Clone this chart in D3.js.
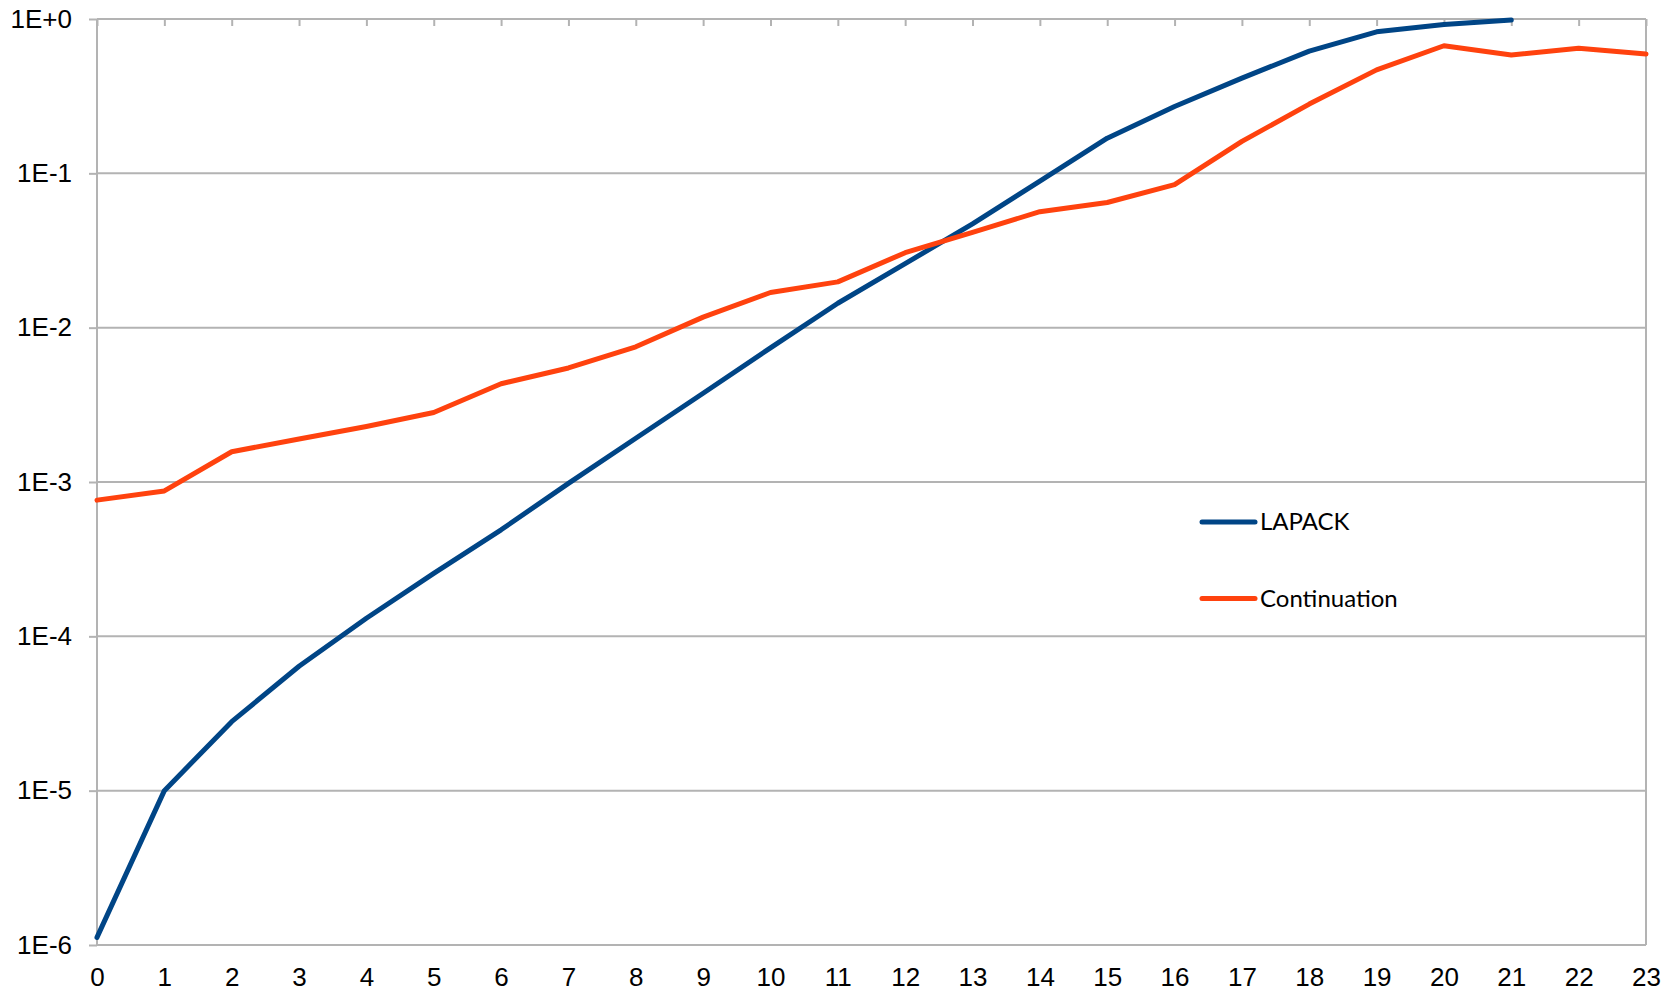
<!DOCTYPE html>
<html>
<head>
<meta charset="utf-8">
<script src="https://cdn.jsdelivr.net/npm/d3@7"></script>
<style>
  html, body { margin: 0; padding: 0; background: #fff; }
  svg { display: block; }
</style>
</head>
<body>
<svg id="chart" width="1679" height="992"></svg>
<script>
// Iteration index on the x axis
const steps = d3.range(0, 24);

// Relative error per step, LAPACK (stops at step 21)
const lapack = [1.12e-6, 1.0e-5, 2.8e-5, 6.4e-5, 1.31e-4, 2.56e-4, 4.9e-4, 9.8e-4,
  1.92e-3, 3.76e-3, 7.4e-3, 1.44e-2, 2.6e-2, 4.7e-2, 8.9e-2, 0.169, 0.271, 0.414,
  0.619, 0.826, 0.92, 0.985];

// Relative error per step, continuation method
const continuation = [7.63e-4, 8.75e-4, 1.57e-3, 1.9e-3, 2.29e-3, 2.82e-3, 4.33e-3,
  5.48e-3, 7.52e-3, 1.17e-2, 1.69e-2, 1.98e-2, 3.06e-2, 4.15e-2, 5.64e-2, 6.47e-2,
  8.45e-2, 0.161, 0.281, 0.468, 0.671, 0.585, 0.646, 0.593];

const yTicks = [1e-6, 1e-5, 1e-4, 1e-3, 1e-2, 1e-1, 1];
const yTickLabels = ["1E-6", "1E-5", "1E-4", "1E-3", "1E-2", "1E-1", "1E+0"];

const seriesNames = ["LAPACK", "Continuation"];
const seriesColors = ["#004586", "#ff420e"];

const svg = d3.select("#chart");
const plotLeft = 97, plotRight = 1646, plotTop = 19, plotBottom = 945;
const gridColor = "#b3b3b3";
const tickFont = "'Liberation Sans', Arial, sans-serif";

const x = d3.scaleLinear().domain([0, 23]).range([plotLeft, plotRight]);
const y = d3.scaleLog().domain([1e-6, 1]).range([plotBottom, plotTop]);

// Horizontal gridlines
svg.append("g")
  .selectAll("line")
  .data(yTicks)
  .join("line")
  .attr("x1", plotLeft).attr("x2", plotRight)
  .attr("y1", d => y(d)).attr("y2", d => y(d))
  .attr("stroke", gridColor).attr("stroke-width", 2);

// Y axis: outward ticks on the left
const yAxis = d3.axisLeft(y)
  .tickValues(yTicks)
  .tickFormat((d, i) => yTickLabels[i])
  .tickSize(8)
  .tickPadding(17);
const gy = svg.append("g").attr("transform", `translate(${plotLeft},0)`).call(yAxis);
gy.select(".domain").remove();
gy.selectAll(".tick line").attr("stroke", gridColor).attr("stroke-width", 2);
gy.selectAll(".tick text")
  .attr("fill", "#000")
  .style("font-family", tickFont)
  .style("font-size", "26px");

// Vertical frame lines
svg.append("line").attr("x1", plotLeft).attr("x2", plotLeft).attr("y1", plotTop).attr("y2", plotBottom)
  .attr("stroke", gridColor).attr("stroke-width", 2);
svg.append("line").attr("x1", plotRight).attr("x2", plotRight).attr("y1", plotTop).attr("y2", plotBottom)
  .attr("stroke", gridColor).attr("stroke-width", 2);

// Category ticks hang from the top edge; labels sit under the plot
const xTop = d3.axisBottom(x).tickValues(steps).tickSize(7).tickFormat("");
const gxt = svg.append("g").attr("transform", `translate(0,${plotTop})`).call(xTop);
gxt.select(".domain").remove();
gxt.selectAll(".tick line").attr("stroke", gridColor).attr("stroke-width", 2);

const xAxis = d3.axisBottom(x).tickValues(steps).tickFormat(d3.format("d")).tickSize(0).tickPadding(23);
const gx = svg.append("g").attr("transform", `translate(0,${plotBottom})`).call(xAxis);
gx.select(".domain").remove();
gx.selectAll(".tick text")
  .attr("fill", "#000")
  .style("font-family", tickFont)
  .style("font-size", "26px");

// Series lines
const line = d3.line().x((d, i) => x(steps[i])).y(d => y(d));
[lapack, continuation].forEach((vals, k) => {
  svg.append("path")
    .datum(vals)
    .attr("d", line)
    .attr("fill", "none")
    .attr("stroke", seriesColors[k])
    .attr("stroke-width", 5)
    .attr("stroke-linejoin", "round")
    .attr("stroke-linecap", "round");
});

// Legend
const legend = svg.append("g");
seriesNames.forEach((name, k) => {
  const ly = 522 + k * 76.5;
  legend.append("line")
    .attr("x1", 1202).attr("x2", 1255)
    .attr("y1", ly).attr("y2", ly)
    .attr("stroke", seriesColors[k]).attr("stroke-width", 5)
    .attr("stroke-linecap", "round");
  legend.append("text")
    .attr("x", 1260).attr("y", ly)
    .attr("dy", "0.35em")
    .attr("fill", "#000")
    .style("font-family", "Lato, 'Open Sans', sans-serif")
    .style("font-size", "24px")
    .text(name);
});
</script>
</body>
</html>
